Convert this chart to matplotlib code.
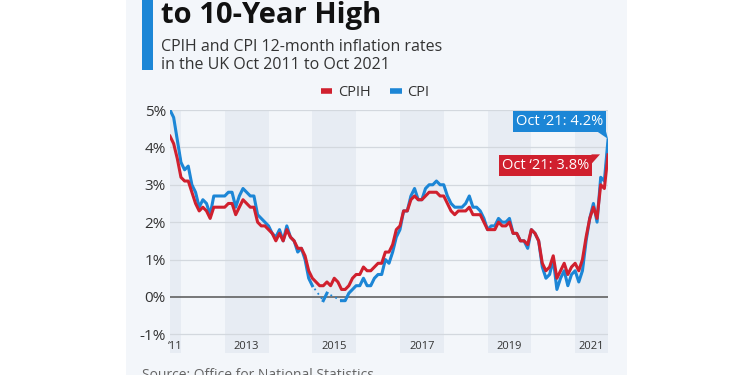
import numpy as np
import matplotlib
matplotlib.use('Agg')
import matplotlib.pyplot as plt
from matplotlib.patches import Rectangle, Polygon
from matplotlib.lines import Line2D
import matplotlib.transforms as mtransforms

plt.rcParams['font.family'] = ['Open Sans', 'DejaVu Sans']

# monthly 12-month rates, Oct 2011 .. Oct 2021 (121 months)
cpih = [4.3, 4.1, 3.7,
        3.2, 3.1, 3.1, 2.8, 2.5, 2.3, 2.4, 2.3, 2.1, 2.4, 2.4, 2.4,
        2.4, 2.5, 2.5, 2.2, 2.4, 2.6, 2.5, 2.4, 2.4, 2.0, 1.9, 1.9,
        1.8, 1.7, 1.5, 1.7, 1.5, 1.8, 1.6, 1.5, 1.3, 1.3, 1.1, 0.7,
        0.5, 0.4, 0.3, 0.3, 0.4, 0.3, 0.5, 0.4, 0.2, 0.2, 0.3, 0.5,
        0.6, 0.6, 0.8, 0.7, 0.7, 0.8, 0.9, 0.9, 1.2, 1.2, 1.4, 1.8,
        1.9, 2.3, 2.3, 2.6, 2.7, 2.6, 2.6, 2.7, 2.8, 2.8, 2.8, 2.7,
        2.7, 2.5, 2.3, 2.2, 2.3, 2.3, 2.3, 2.4, 2.2, 2.2, 2.2, 2.0,
        1.8, 1.8, 1.8, 2.0, 1.9, 1.9, 2.0, 1.7, 1.7, 1.5, 1.5, 1.4,
        1.8, 1.7, 1.5, 0.9, 0.7, 0.8, 1.1, 0.5, 0.7, 0.9, 0.6, 0.8,
        0.9, 0.7, 1.0, 1.6, 2.1, 2.4, 2.1, 3.0, 2.9, 3.8]

# None = months the published chart leaves out (drawn dotted)
cpi = [5.0, 4.8, 4.2,
       3.6, 3.4, 3.5, 3.0, 2.8, 2.4, 2.6, 2.5, 2.2, 2.7, 2.7, 2.7,
       2.7, 2.8, 2.8, 2.4, 2.7, 2.9, 2.8, 2.7, 2.7, 2.2, 2.1, 2.0,
       1.9, 1.7, 1.6, 1.8, 1.5, 1.9, 1.6, 1.5, 1.2, 1.3, 1.0, 0.5,
       0.3, None, None, -0.1, 0.1, None, None, None, -0.1, -0.1, 0.1, 0.2,
       0.3, 0.3, 0.5, 0.3, 0.3, 0.5, 0.6, 0.6, 1.0, 0.9, 1.2, 1.6,
       1.8, 2.3, 2.3, 2.7, 2.9, 2.6, 2.6, 2.9, 3.0, 3.0, 3.1, 3.0,
       3.0, 2.7, 2.5, 2.4, 2.4, 2.4, 2.5, 2.7, 2.4, 2.4, 2.3, 2.1,
       1.8, 1.9, 1.9, 2.1, 2.0, 2.0, 2.1, 1.7, 1.7, 1.5, 1.5, 1.3,
       1.8, 1.7, 1.5, 0.8, 0.5, 0.6, 1.0, 0.2, 0.5, 0.7, 0.3, 0.6,
       0.7, 0.4, 0.7, 1.5, 2.1, 2.5, 2.0, 3.2, 3.1, 4.2]

years = [2011, 2013, 2015, 2017, 2019, 2021]
year_labels = ["\u201811", "2013", "2015", "2017", "2019", "2021"]
yticks = [-1, 0, 1, 2, 3, 4, 5]

RED = '#d0202e'
BLUE = '#1c86d6'
CARD = '#f3f6fa'
BAND = '#e7ecf3'

months = np.arange(len(cpih))  # months since Oct 2011
cpi_arr = np.array([np.nan if v is None else v for v in cpi], dtype=float)
ok = ~np.isnan(cpi_arr)

fig = plt.figure(figsize=(7.5, 3.75), dpi=100)
fig.patch.set_facecolor('white')

# card background
fig.patches.append(Rectangle((126/750, 0), (627-126)/750, 1, transform=fig.transFigure,
                             fc=CARD, ec='none', zorder=-10))
# blue accent bar
fig.patches.append(Rectangle((142/750, 1-70/375), 11/750, 70/375, transform=fig.transFigure,
                             fc=BLUE, ec='none', zorder=-5))

fig.text(161/750, 1-23/375, "to 10-Year High", fontsize=21, fontweight='bold',
         color='#111111', va='baseline', ha='left')
fig.text(161/750, 1-51/375, "CPIH and CPI 12-month inflation rates", fontsize=11.5,
         color='#333333', va='baseline')
fig.text(161/750, 1-69/375, "in the UK Oct 2011 to Oct 2021", fontsize=11.5,
         color='#333333', va='baseline')
fig.text(142/750, 1-368/375, "Source: Office for National Statistics", fontsize=10,
         color='#666666', va='top')

ax = fig.add_axes([170/750, 1-353/375, (608-170)/750, (353-110)/375])
ax.set_facecolor('none')
ax.set_xlim(0, 120)
ax.set_ylim(-1.5, 5)

# alternating year bands
for y, lab in zip(years, year_labels):
    start = max(0, (y - 2011) * 12 - 9)
    end = min(120, (y - 2011) * 12 + 3)
    ax.axvspan(start, end, color=BAND, lw=0, zorder=0)
    ax.text((start + end) / 2, -1.32, lab, ha='center', va='center', fontsize=8,
            color='#333333')

ax.set_yticks(yticks)
ax.set_yticklabels([f"{v}%" for v in yticks], fontsize=11, color='#333333')
ax.set_xticks([])
ax.tick_params(axis='y', length=0, pad=3)
for s in ax.spines.values():
    s.set_visible(False)
for v in yticks:
    ax.axhline(v, color='#555555' if v == 0 else '#d3d8de', lw=1.1 if v == 0 else 0.9, zorder=1)

# CPI: dotted across the omitted months, solid elsewhere
ax.plot(months[ok], cpi_arr[ok], color=BLUE, lw=1.3, ls=(0, (1, 2)), zorder=2)
ax.plot(months, cpi_arr, color=BLUE, lw=2.2, zorder=2, solid_joinstyle='round')
ax.plot(months, cpih, color=RED, lw=2.2, zorder=3, solid_joinstyle='round')

# end labels with little pointers (offsets in pixels)
last = months[-1]
off = lambda dx, dy: ax.transData + mtransforms.ScaledTranslation(dx/100, dy/100, fig.dpi_scale_trans)
ax.text(last, cpi_arr[-1], "Oct \u201821: 4.2%", transform=off(-5, 11), ha='right',
        va='bottom', color='white', fontsize=10.5,
        bbox=dict(boxstyle='square,pad=0.2', fc=BLUE, ec='none'), zorder=5)
ax.text(last, cpih[-1], "Oct \u201821: 3.8%", transform=off(-19, -3), ha='right',
        va='top', color='white', fontsize=10.5,
        bbox=dict(boxstyle='square,pad=0.2', fc=RED, ec='none'), zorder=5)

bx, by = ax.transData.transform((last, cpi_arr[-1]))
rx, ry = ax.transData.transform((last, cpih[-1]))
ident = mtransforms.IdentityTransform()
fig.patches.append(Polygon([(bx - 11, by + 8.5), (bx - 2, by + 8.5), (bx, by + 1)],
                           closed=True, fc=BLUE, ec='none', transform=ident, zorder=5))
fig.patches.append(Polygon([(rx - 16.5, ry + 0.5), (rx - 8, ry + 0.5), (rx - 16.5, ry - 9)],
                           closed=True, fc=RED, ec='none', transform=ident, zorder=5))

fig.legend(handles=[Line2D([], [], color=RED, lw=4, solid_capstyle='butt'),
                    Line2D([], [], color=BLUE, lw=4, solid_capstyle='butt')],
           labels=['CPIH', 'CPI'], loc='center', bbox_to_anchor=(375/750, 1-93/375),
           ncol=2, frameon=False, fontsize=10.5, handlelength=0.8, handletextpad=0.4,
           columnspacing=1.3, labelcolor='#333333')

fig.savefig('out.png', dpi=100)
